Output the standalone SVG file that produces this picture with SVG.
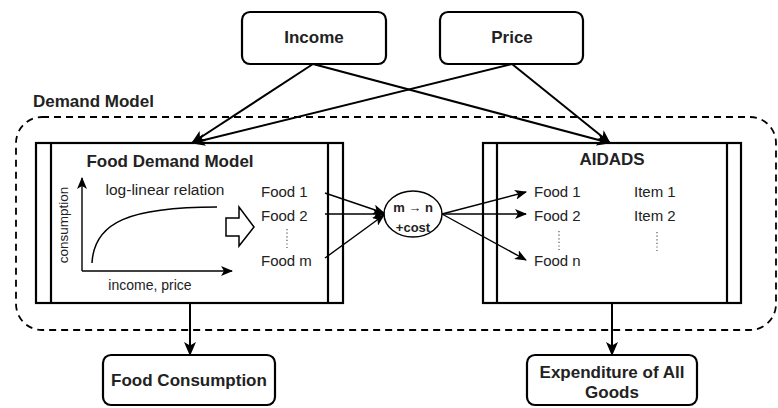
<svg xmlns="http://www.w3.org/2000/svg" width="778" height="408" viewBox="0 0 778 408">
<defs>
<style>
.bx{fill:#fff;stroke:#000;stroke-width:2.2}
.bl{font-family:"Liberation Sans",Arial,sans-serif;font-weight:bold;font-size:17px;fill:#222;text-anchor:middle}
.tx{font-family:"Liberation Sans",Arial,sans-serif;font-size:15px;fill:#222}
.cn{stroke:#000;stroke-width:2;fill:none}
.cf{stroke:#000;stroke-width:1.4;fill:none}
.dot{stroke:#555;stroke-width:1.2;stroke-dasharray:1.2,2.4;fill:none}
</style>
<marker id="ah" viewBox="0 0 14 12" refX="13" refY="6" markerWidth="14" markerHeight="12" markerUnits="userSpaceOnUse" orient="auto">
<path d="M0,0 L14,6 L0,12 L3.5,6 z" fill="#000"/>
</marker>
<marker id="as" viewBox="0 0 12 10" refX="11" refY="5" markerWidth="12" markerHeight="10" markerUnits="userSpaceOnUse" orient="auto">
<path d="M0,0 L12,5 L0,10 L3,5 z" fill="#000"/>
</marker>
</defs>
<rect width="778" height="408" fill="#fff"/>

<g id="demand-model">
<rect x="16" y="117" width="760" height="213" rx="26" fill="none" stroke="#000" stroke-width="1.8" stroke-dasharray="7,5"/>
<text x="33" y="107" class="bl" style="text-anchor:start">Demand Model</text>
</g>

<g id="income">
<rect x="242" y="12" width="144" height="52" rx="8" class="bx"/>
<text x="314" y="43" class="bl">Income</text>
</g>

<g id="price">
<rect x="440" y="12" width="143" height="52" rx="8" class="bx"/>
<text x="512" y="43" class="bl">Price</text>
</g>

<g id="food-demand-model">
<rect x="36" y="143" width="307" height="160" class="bx"/>
<line x1="51" y1="143" x2="51" y2="303" stroke="#000" stroke-width="2.2"/>
<line x1="328" y1="143" x2="328" y2="303" stroke="#000" stroke-width="2.2"/>
<text x="170" y="167" class="bl">Food Demand Model</text>
<line x1="82" y1="271" x2="82" y2="178" class="cf" marker-end="url(#as)"/>
<line x1="82" y1="271" x2="232" y2="271" class="cf" marker-end="url(#as)"/>
<path d="M92,263 C94,222 130,207 217,207" fill="none" stroke="#000" stroke-width="1.5"/>
<text x="165" y="195" class="tx" text-anchor="middle" style="font-size:15.5px">log-linear relation</text>
<text x="150" y="290" class="tx" text-anchor="middle" style="font-size:14px">income, price</text>
<text transform="translate(68,225) rotate(-90)" class="tx" text-anchor="middle" style="font-size:13.5px">consumption</text>
<polygon points="226,218 239,218 239,207 254,227 239,246 239,236 226,236" fill="#fff" stroke="#000" stroke-width="1.5"/>
<text x="261" y="197" class="tx">Food 1</text>
<text x="261" y="221" class="tx">Food 2</text>
<line x1="287" y1="229" x2="287" y2="248" class="dot"/>
<text x="261" y="266" class="tx">Food m</text>
</g>

<g id="mapping">
<ellipse cx="413" cy="214" rx="29" ry="23" fill="#fff" stroke="#000" stroke-width="1.5"/>
<text x="413" y="212" class="bl" style="font-size:13px">m → n</text>
<text x="413" y="232" class="bl" style="font-size:13px">+cost</text>
</g>

<g id="aidads">
<rect x="483" y="143" width="258" height="160" class="bx"/>
<line x1="497" y1="143" x2="497" y2="303" stroke="#000" stroke-width="2.2"/>
<line x1="727" y1="143" x2="727" y2="303" stroke="#000" stroke-width="2.2"/>
<text x="612" y="165" class="bl">AIDADS</text>
<text x="534" y="197" class="tx">Food 1</text>
<text x="534" y="221" class="tx">Food 2</text>
<line x1="559" y1="231" x2="559" y2="250" class="dot"/>
<text x="534" y="266" class="tx">Food n</text>
<text x="634" y="197" class="tx">Item 1</text>
<text x="634" y="221" class="tx">Item 2</text>
<line x1="657" y1="232" x2="657" y2="251" class="dot"/>
</g>

<g id="food-consumption">
<rect x="103" y="355" width="172" height="50" rx="8" class="bx"/>
<text x="189" y="386" class="bl">Food Consumption</text>
</g>

<g id="expenditure">
<rect x="527" y="355" width="170" height="50" rx="8" class="bx"/>
<text x="612" y="378" class="bl">Expenditure of All</text>
<text x="612" y="398" class="bl">Goods</text>
</g>

<g id="connectors">
<line x1="313" y1="64" x2="192" y2="143" class="cn" marker-end="url(#ah)"/>
<line x1="512" y1="64" x2="192" y2="143" class="cn" marker-end="url(#ah)"/>
<line x1="313" y1="64" x2="610" y2="143" class="cn" marker-end="url(#ah)"/>
<line x1="512" y1="64" x2="610" y2="143" class="cn" marker-end="url(#ah)"/>
<line x1="325" y1="193" x2="384" y2="213" class="cf" marker-end="url(#as)"/>
<line x1="325" y1="214" x2="384" y2="214" class="cf" marker-end="url(#as)"/>
<line x1="325" y1="258" x2="384" y2="215" class="cf" marker-end="url(#as)"/>
<line x1="442" y1="214" x2="526" y2="192" class="cf" marker-end="url(#as)"/>
<line x1="442" y1="214" x2="526" y2="214" class="cf" marker-end="url(#as)"/>
<line x1="442" y1="214" x2="526" y2="260" class="cf" marker-end="url(#as)"/>
<line x1="190" y1="303" x2="190" y2="355" class="cn" marker-end="url(#ah)"/>
<line x1="612" y1="303" x2="612" y2="355" class="cn" marker-end="url(#ah)"/>
</g>
</svg>
